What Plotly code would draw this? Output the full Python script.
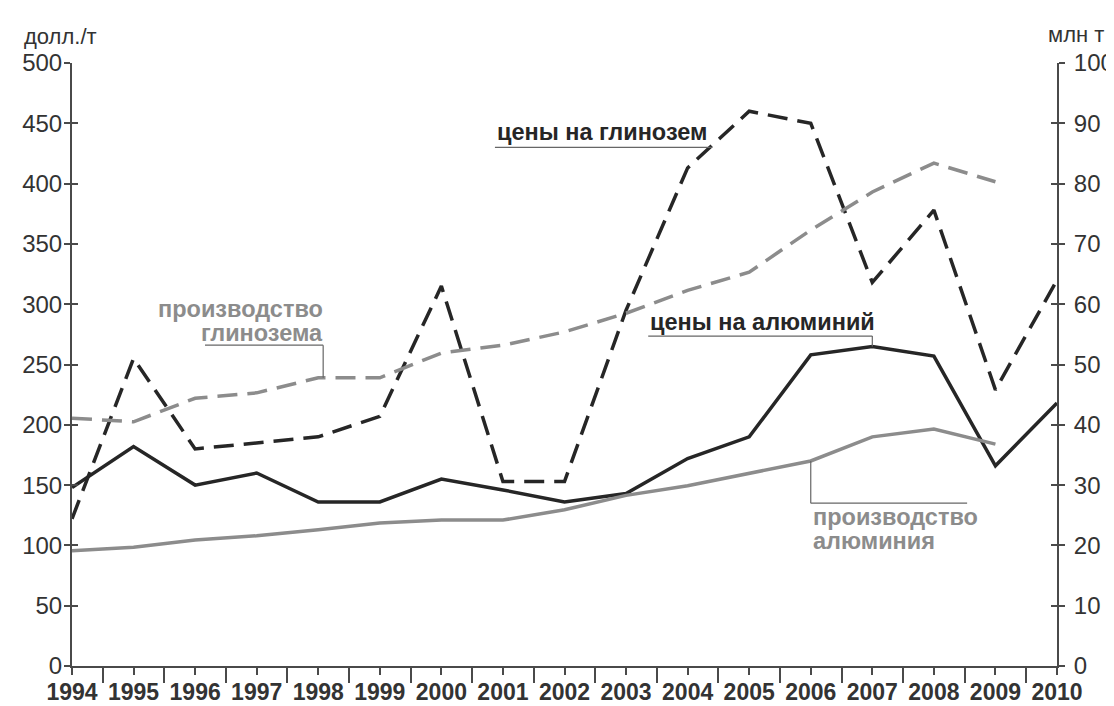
import plotly.graph_objects as go

years = list(range(1994, 2011))
alumina_price = [122, 255, 180, 185, 190, 207, 315, 153, 153, 295, 413, 460, 450, 318, 378, 229, 320]
aluminium_price = [148, 182, 150, 160, 136, 136, 155, 146, 136, 143, 172, 190, 258, 265, 257, 166, 218]
alumina_prod = [41.1, 40.5, 44.4, 45.3, 47.8, 47.8, 51.9, 53.2, 55.4, 58.5, 62.3, 65.3, 72.3, 78.6, 83.4, 80.3]
aluminium_prod = [19.1, 19.7, 20.9, 21.6, 22.6, 23.7, 24.2, 24.2, 25.9, 28.3, 29.9, 32.0, 34.0, 38.0, 39.3, 36.8]

BLACK = "#262626"
GRAY = "#8c8c8c"
AXIS = "#4a4a4a"
FONT = "Liberation Sans"

fig = go.Figure()
fig.add_trace(go.Scatter(x=years[:len(alumina_prod)], y=alumina_prod, yaxis="y2", mode="lines",
                         line=dict(color=GRAY, width=3.5, dash="20px,10px")))
fig.add_trace(go.Scatter(x=years[:len(aluminium_prod)], y=aluminium_prod, yaxis="y2", mode="lines",
                         line=dict(color=GRAY, width=3.5)))
fig.add_trace(go.Scatter(x=years, y=aluminium_price, mode="lines",
                         line=dict(color=BLACK, width=3.5)))
fig.add_trace(go.Scatter(x=years, y=alumina_price, mode="lines",
                         line=dict(color=BLACK, width=3.5, dash="20px,10px")))
# helper traces for inner tick halves
fig.add_trace(go.Scatter(x=[years[0]], y=[0], yaxis="y3", mode="lines", hoverinfo="skip"))
fig.add_trace(go.Scatter(x=[years[0]], y=[0], yaxis="y4", mode="lines", hoverinfo="skip"))

tickfont = dict(family=FONT, size=24, color="#333333")
fig.update_layout(
    width=1106, height=698,
    margin=dict(l=64, r=57, t=55, b=40, autoexpand=False),
    plot_bgcolor="white", paper_bgcolor="white",
    showlegend=False,
    xaxis=dict(range=[1994, 2010], tickmode="linear", tick0=1994, dtick=1, automargin=False,
               ticks="outside", ticklen=7, tickwidth=2, tickcolor=AXIS,
               minor=dict(ticks="outside", tick0=1994.5, dtick=1, ticklen=15, tickwidth=2, tickcolor=AXIS),
               showline=True, linecolor=AXIS, linewidth=2, showgrid=False, zeroline=False,
               tickfont=dict(family=FONT, size=23, color="#333333", weight="bold"),
               ticklabelstandoff=-3),
    yaxis=dict(range=[0, 500], tickmode="linear", tick0=0, dtick=50, automargin=False,
               ticks="outside", ticklen=6, tickwidth=2, tickcolor=AXIS,
               showline=True, linecolor=AXIS, linewidth=2, showgrid=False, zeroline=False,
               tickfont=tickfont, ticklabelstandoff=-3),
    yaxis2=dict(range=[0, 100], tickmode="linear", tick0=0, dtick=10, overlaying="y", side="right",
                automargin=False, ticks="outside", ticklen=6, tickwidth=2, tickcolor=AXIS,
                showline=True, linecolor=AXIS, linewidth=2, showgrid=False, zeroline=False,
                tickfont=tickfont, ticklabelstandoff=4),
    yaxis3=dict(range=[0, 500], tickmode="linear", tick0=0, dtick=50, overlaying="y", side="left",
                automargin=False, ticks="inside", ticklen=6, tickwidth=2, tickcolor=AXIS, showticklabels=False,
                showline=False, showgrid=False, zeroline=False),
    yaxis4=dict(range=[0, 100], tickmode="linear", tick0=0, dtick=10, overlaying="y", side="right",
                automargin=False, ticks="inside", ticklen=6, tickwidth=2, tickcolor=AXIS, showticklabels=False,
                showline=False, showgrid=False, zeroline=False),
)

ann_font_black = dict(family=FONT, size=23.5, color=BLACK, weight="bold")
ann_font_gray = dict(family=FONT, size=23.5, color=GRAY, weight="bold")
annotations = [
    dict(text="долл./т", xref="paper", yref="paper", x=-0.051, y=1.0, xanchor="left", yanchor="bottom",
         yshift=12, showarrow=False, font=dict(family=FONT, size=22, color="#333333")),
    dict(text="млн т", xref="paper", yref="paper", x=1.0, y=1.0, xanchor="left", yanchor="bottom",
         xshift=-11, yshift=14, showarrow=False, font=dict(family=FONT, size=22, color="#333333")),
    dict(text="цены на глинозем", x=2000.87, y=430, xanchor="left", yanchor="bottom", yshift=0,
         showarrow=False, font=ann_font_black),
    dict(text="цены на алюминий", x=2003.36, y=273.6, xanchor="left", yanchor="bottom", yshift=-1,
         showarrow=False, font=ann_font_black),
    dict(text="производство", x=1998.11, y=53.2, yref="y2", xanchor="right", yanchor="bottom", yshift=21,
         showarrow=False, font=ann_font_gray),
    dict(text="глинозема", x=1998.11, y=53.2, yref="y2", xanchor="right", yanchor="bottom", yshift=-3,
         showarrow=False, font=ann_font_gray),
    dict(text="производство", x=2006, y=27.0, yref="y2", xanchor="left", yanchor="top", yshift=1,
         showarrow=False, font=ann_font_gray),
    dict(text="алюминия", x=2006, y=27.0, yref="y2", xanchor="left", yanchor="top", yshift=-23,
         showarrow=False, font=ann_font_gray),
]
fig.update_layout(annotations=annotations)

lead = dict(color="#666666", width=1.2)
shapes = [
    dict(type="line", x0=2000.87, x1=2004.4, y0=430, y1=430, xref="x", yref="y", line=lead),
    dict(type="line", x0=2003.36, x1=2007, y0=273.6, y1=273.6, xref="x", yref="y", line=lead),
    dict(type="line", x0=2007, x1=2007, y0=273.6, y1=aluminium_price[13], xref="x", yref="y", line=lead),
    dict(type="line", x0=1996.16, x1=1998.08, y0=53.2, y1=53.2, xref="x", yref="y2", line=lead),
    dict(type="line", x0=1998.08, x1=1998.08, y0=53.2, y1=alumina_prod[4], xref="x", yref="y2", line=lead),
    dict(type="line", x0=2006, x1=2006, y0=aluminium_prod[12], y1=27.0, xref="x", yref="y2", line=lead),
    dict(type="line", x0=2006, x1=2008.54, y0=27.0, y1=27.0, xref="x", yref="y2", line=lead),
]
fig.update_layout(shapes=shapes)

fig.write_html("out.html")
